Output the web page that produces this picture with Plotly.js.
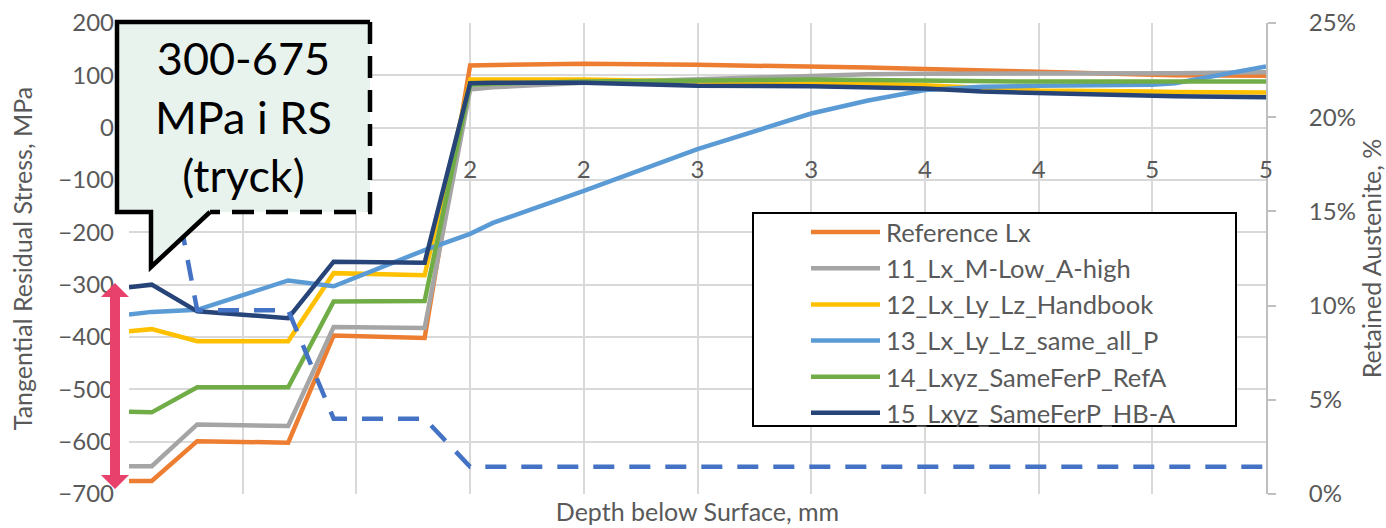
<!DOCTYPE html>
<html>
<head>
<meta charset="utf-8">
<script src="https://cdn.plot.ly/plotly-3.0.1.min.js"></script>
<style>
  html, body { margin: 0; padding: 0; background: #ffffff; }
  #chart { width: 1386px; height: 528px; }
</style>
</head>
<body>
<div id="chart"></div>
<script>
// Depth below the surface (mm) at which the stress profiles are evaluated
const depthMm = [0, 0.1, 0.3, 0.7, 0.9, 1.3, 1.5, 1.6, 2.0, 2.5, 3.0, 3.25, 3.5, 3.75, 4.0, 4.5, 4.6, 5.0];

// Tangential residual stress (MPa) for each simulation case
const referenceLx      = [-675, -675, -599, -602, -397, -402, 119, 120, 122, 120, 118, 115, 112, 110, 107, 101, 100, 99];
const lxMLowAHigh      = [-647, -647, -567, -570, -381, -383, 73, 77, 86, 92, 100, 102, 103, 103, 104, 104, 104, 106];
const lxLyLzHandbook   = [-389, -385, -408, -408, -278, -282, 92, 92, 92, 88, 86, 84, 81, 76, 71, 69, 68, 67];
const lxLyLzSameAllP   = [-357, -352, -348, -292, -303, -234, -203, -182, -121, -41, 27, 52, 72, 78, 80, 82, 85, 117];
const lxyzSameFerPRefA = [-543, -544, -496, -496, -332, -331, 82, 84, 88, 91, 92, 91, 90, 88, 88, 88, 88, 88];
const lxyzSameFerPHBA  = [-305, -300, -351, -364, -256, -258, 85, 86, 86, 80, 79, 77, 75, 69, 66, 61, 60, 58];

// Retained austenite (%) over depth
const raDepthMm = [0, 0.1, 0.3, 0.7, 0.9, 1.3, 1.5, 5.0];
const retainedAustenite = [22.5, 22.5, 9.75, 9.75, 4.0, 4.0, 1.45, 1.45];

// Depth tick positions labelled along the zero-stress line
const depthTickVals = [1.5, 2.0, 2.5, 3.0, 3.5, 4.0, 4.5, 5.0];

const seriesNames = [
  'Reference Lx',
  '11_Lx_M-Low_A-high',
  '12_Lx_Ly_Lz_Handbook',
  '13_Lx_Ly_Lz_same_all_P',
  '14_Lxyz_SameFerP_RefA',
  '15_Lxyz_SameFerP_HB-A'
];
const seriesValues = [referenceLx, lxMLowAHigh, lxLyLzHandbook, lxLyLzSameAllP, lxyzSameFerPRefA, lxyzSameFerPHBA];
const seriesColors = ['#ED7D31', '#A5A5A5', '#FFC000', '#5B9BD5', '#70AD47', '#264478'];

const calloutText = '300-675<br>MPa i RS<br>(tryck)';

// Plot-area geometry in pixels, used to place the decorations in paper space
const plotL = 129, plotR = 1266, plotT = 23, plotB = 494;
const px = x => (x - plotL) / (plotR - plotL);
const py = y => (plotB - y) / (plotB - plotT);
const pathOf = (pts, close) =>
  pts.map((p, i) => (i ? 'L' : 'M') + px(p[0]).toFixed(5) + ',' + py(p[1]).toFixed(5)).join(' ') + (close ? ' Z' : '');

const traces = seriesValues.map((vals, i) => ({
  type: 'scatter',
  mode: 'lines',
  name: seriesNames[i],
  x: depthMm,
  y: vals,
  xaxis: 'x',
  yaxis: 'y',
  line: { color: seriesColors[i], width: 4.5 },
  hoverinfo: 'skip'
}));

traces.push({
  type: 'scatter',
  mode: 'lines',
  name: 'Retained Austenite',
  x: raDepthMm,
  y: retainedAustenite,
  xaxis: 'x2',
  yaxis: 'y2',
  showlegend: false,
  line: { color: '#4472C4', width: 4.5, dash: '21px,15px' },
  hoverinfo: 'skip'
});

// Speech-bubble callout (fill, solid edges, dashed edges) and red range arrow
const bubbleFill = [[117, 22], [370, 22], [370, 212], [210, 212], [151, 267], [151, 212], [117, 212]];
const bubbleSolid = [[210, 212], [151, 267], [151, 212], [117, 212], [117, 22], [370, 22]];
const bubbleDashed = [[370, 22], [370, 212], [210, 212]];
const rangeArrow = [[115, 283], [129, 297], [120, 297], [120, 475], [129, 475], [115, 489],
                    [101, 475], [110, 475], [110, 297], [101, 297]];

const shapes = [
  { type: 'rect', xref: 'paper', yref: 'paper', x0: px(753), x1: px(1236), y0: py(426), y1: py(213),
    fillcolor: '#ffffff', line: { color: '#000000', width: 2 }, layer: 'above' },
  { type: 'path', xref: 'paper', yref: 'paper', path: pathOf(bubbleFill, true),
    fillcolor: '#E9F3EE', line: { width: 0 }, layer: 'above' },
  { type: 'path', xref: 'paper', yref: 'paper', path: pathOf(bubbleSolid, false),
    fillcolor: 'rgba(0,0,0,0)', line: { color: '#000000', width: 4.5 }, layer: 'above' },
  { type: 'path', xref: 'paper', yref: 'paper', path: pathOf(bubbleDashed, false),
    fillcolor: 'rgba(0,0,0,0)', line: { color: '#000000', width: 4.5, dash: '22px,12px' }, layer: 'above' },
  { type: 'path', xref: 'paper', yref: 'paper', path: pathOf(rangeArrow, true),
    fillcolor: '#E8416B', line: { width: 0 }, layer: 'above' }
];

const annotations = [
  { xref: 'paper', yref: 'paper', x: px(243.5), y: py(117), text: calloutText, showarrow: false,
    xanchor: 'center', yanchor: 'middle', align: 'center',
    font: { family: 'Lato, sans-serif', size: 45, color: '#000000' } }
];

const gridColor = '#D9D9D9';
const textColor = '#595959';

const layout = {
  width: 1386,
  height: 528,
  margin: { l: plotL, r: 1386 - plotR, t: plotT, b: 528 - plotB, pad: 0 },
  paper_bgcolor: '#ffffff',
  plot_bgcolor: '#ffffff',
  font: { family: 'Lato, sans-serif', size: 24, color: textColor },
  showlegend: true,
  legend: {
    x: px(753), y: py(209), xanchor: 'left', yanchor: 'top',
    bgcolor: 'rgba(0,0,0,0)', borderwidth: 0, itemwidth: 123,
    font: { family: 'Lato, sans-serif', size: 25.5, color: textColor },
    traceorder: 'normal'
  },
  xaxis: {
    range: [0, 5], tick0: 0, dtick: 0.5,
    showgrid: true, gridcolor: gridColor, gridwidth: 2,
    showticklabels: false, ticks: '', zeroline: false, showline: false,
    title: { text: 'Depth below Surface, mm', font: { size: 25, color: textColor }, standoff: 9 },
    fixedrange: true
  },
  xaxis2: {
    overlaying: 'x', anchor: 'free', position: 7 / 9,
    range: [0, 5], tickmode: 'array', tickvals: depthTickVals, tickformat: '.0f',
    showgrid: false, zeroline: false, showline: false, ticks: '',
    ticklabelstandoff: 25,
    tickfont: { size: 24, color: textColor },
    fixedrange: true
  },
  yaxis: {
    range: [-700, 200], tick0: -700, dtick: 100,
    showgrid: true, gridcolor: gridColor, gridwidth: 2,
    zeroline: false, showline: false, ticks: '',
    ticklabelstandoff: 14,
    tickfont: { size: 24, color: textColor },
    title: { text: 'Tangential Residual Stress, MPa', font: { size: 25, color: textColor }, standoff: 18 },
    fixedrange: true
  },
  yaxis2: {
    overlaying: 'y', side: 'right', anchor: 'x',
    range: [0, 25], tick0: 0, dtick: 5, ticksuffix: '%',
    showgrid: false, zeroline: false,
    showline: true, linecolor: '#BFBFBF', linewidth: 2,
    ticks: 'outside', ticklen: 8, tickwidth: 2, tickcolor: '#BFBFBF',
    ticklabelstandoff: 28,
    tickfont: { size: 24, color: textColor },
    title: { text: 'Retained Austenite, %', font: { size: 25, color: textColor }, standoff: 14 },
    fixedrange: true
  },
  shapes: shapes,
  annotations: annotations
};

Plotly.newPlot('chart', traces, layout, { staticPlot: true, displayModeBar: false }).then(gd => {
  // Longer legend line samples, ending just before the entry text
  gd.querySelectorAll('.legend .legendlines path').forEach(p => p.setAttribute('d', 'M58,0h69'));
});
</script>
</body>
</html>
